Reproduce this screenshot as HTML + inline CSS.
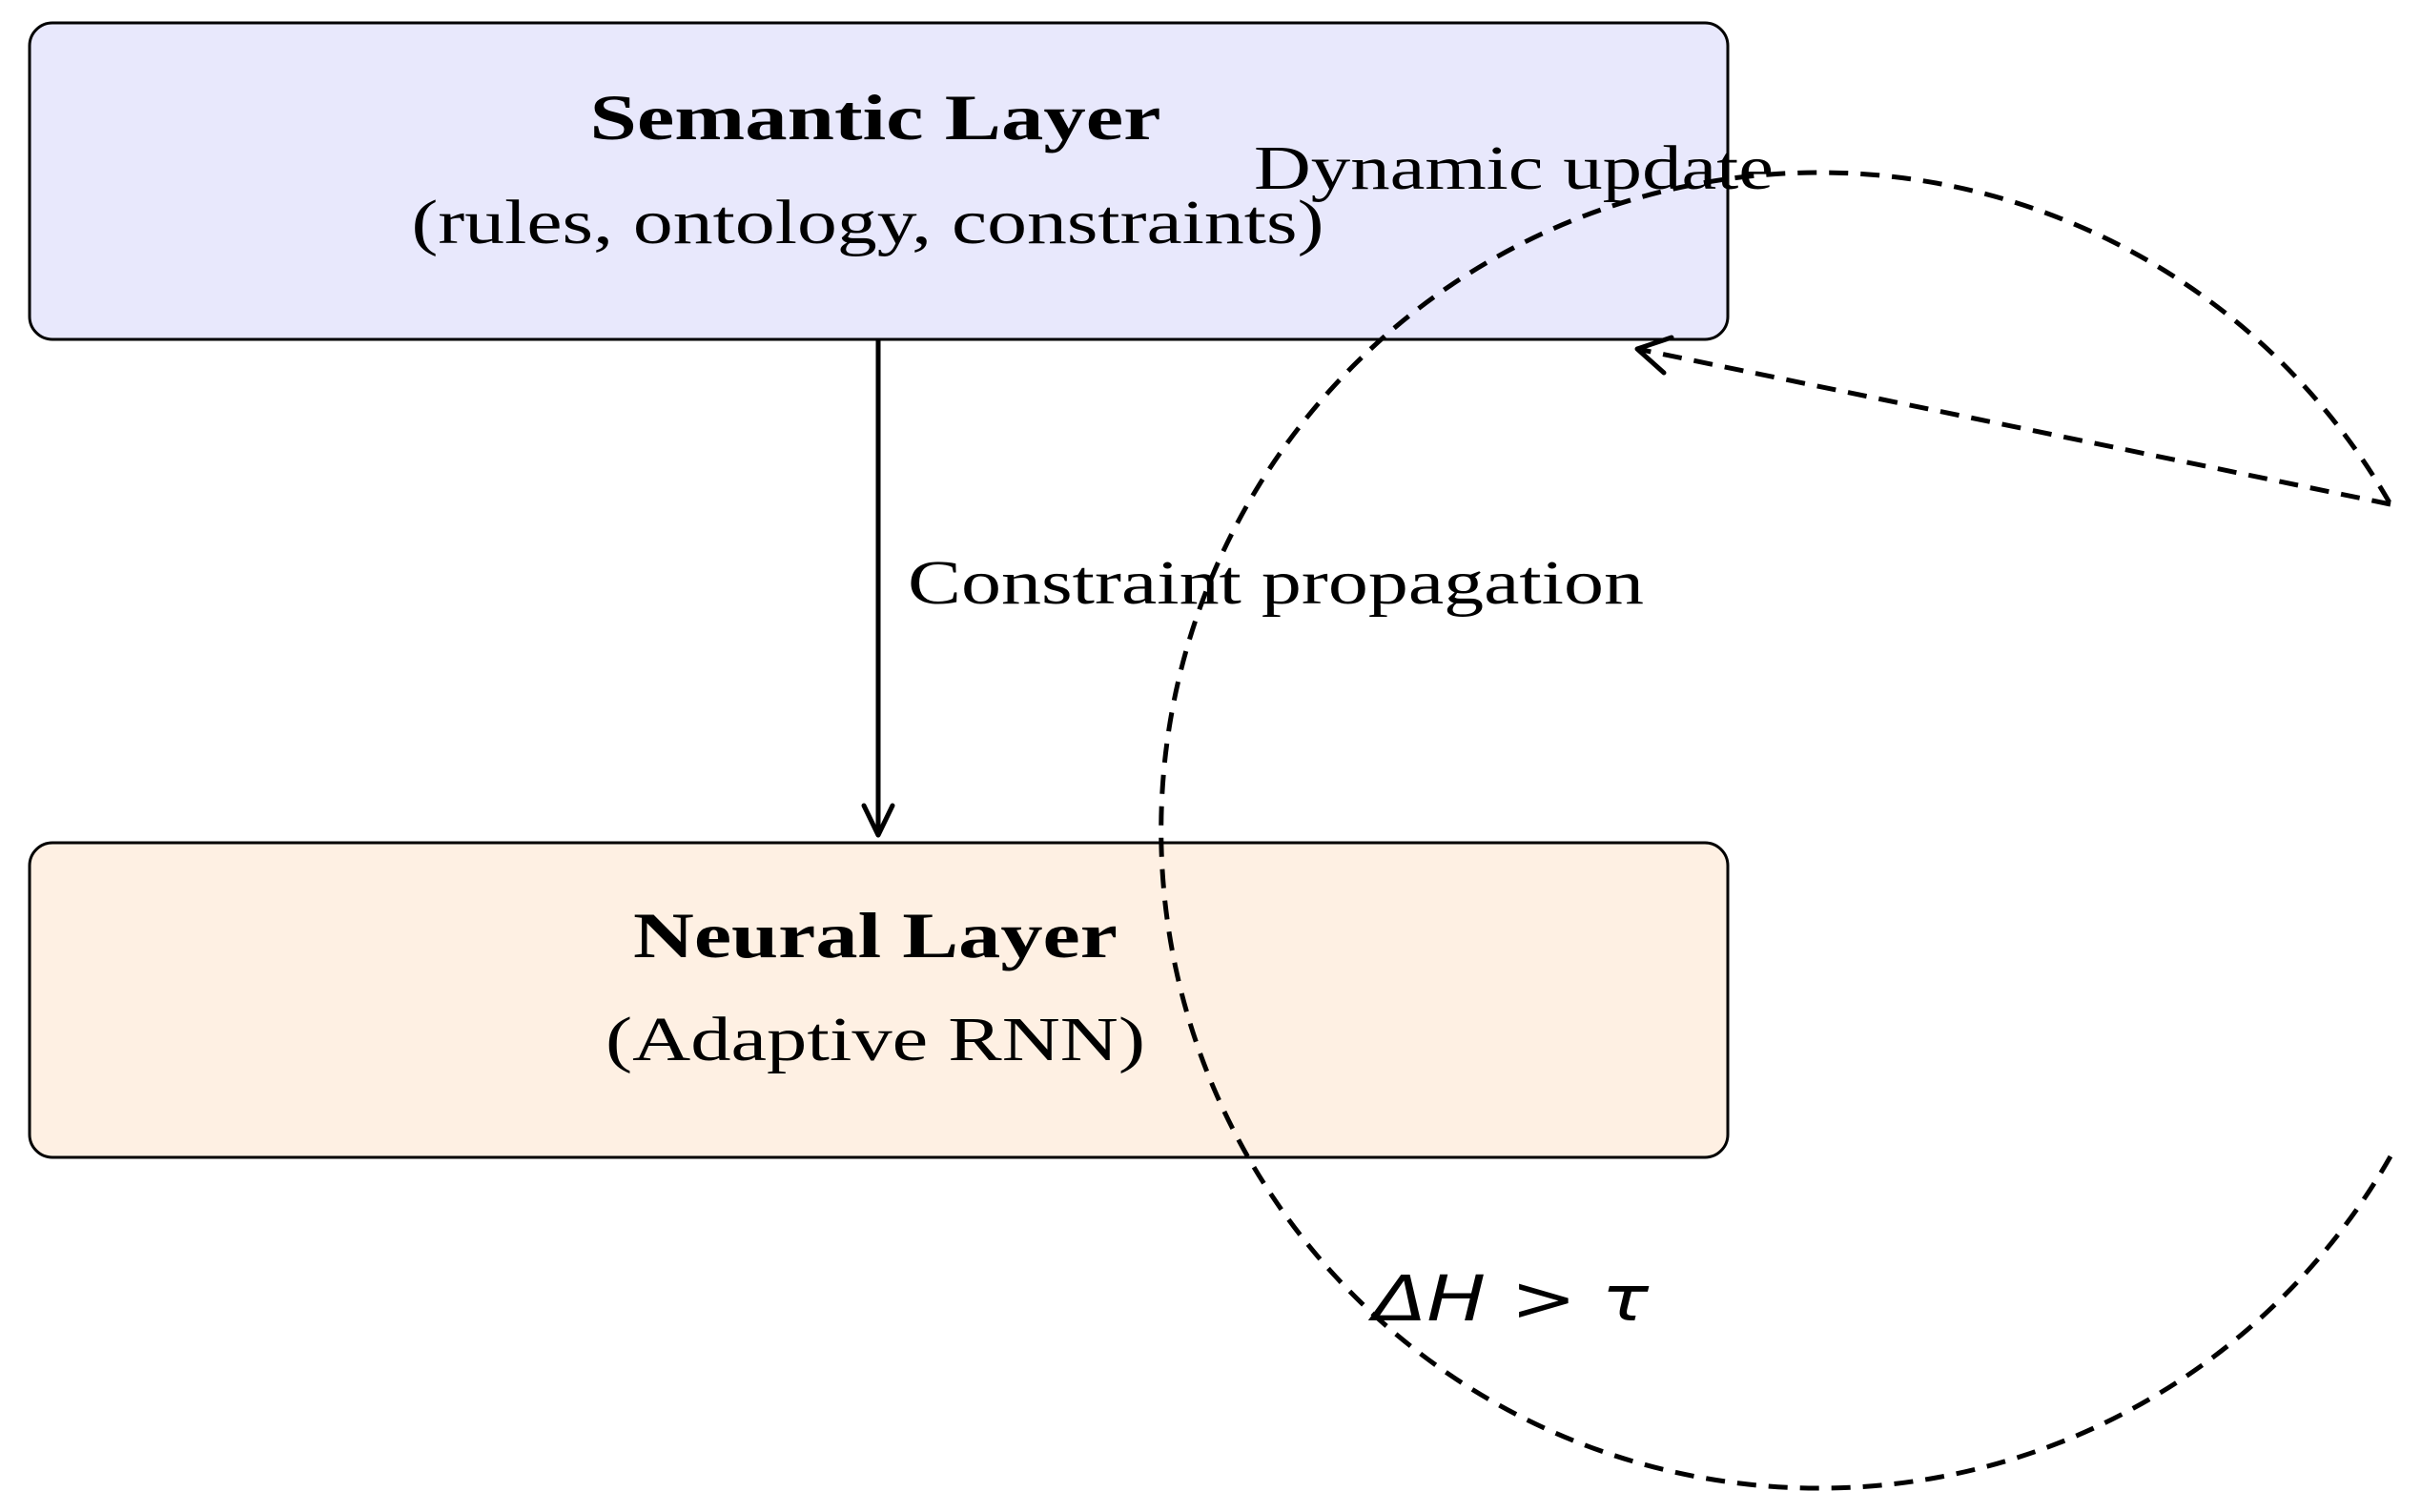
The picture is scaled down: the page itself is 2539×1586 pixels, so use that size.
<!DOCTYPE html>
<html><head><meta charset="utf-8"><style>
html,body{margin:0;padding:0;background:#fff;}
svg{display:block;}
</style></head><body>
<svg width="2539" height="1586" viewBox="0 0 2539 1586" xmlns="http://www.w3.org/2000/svg">
<defs>
<marker id="ah" markerWidth="12" markerHeight="12" refX="9" refY="6" orient="auto" markerUnits="userSpaceOnUse" viewBox="0 0 12 12">
</marker>
</defs>
<rect x="31" y="24" width="1781" height="332" rx="24" ry="24" fill="#E8E8FC" stroke="#000" stroke-width="3"/>
<rect x="31" y="884" width="1781" height="330" rx="24" ry="24" fill="#FEF0E3" stroke="#000" stroke-width="3"/>
<line x1="921" y1="356" x2="921" y2="873" stroke="#000" stroke-width="5"/>
<polyline points="906,845 921,876 936,845" fill="none" stroke="#000" stroke-width="5" stroke-linejoin="round" stroke-linecap="round"/>
<path d="M2507,1213 A690,690 0 1 1 2507,529" fill="none" stroke="#000" stroke-width="5" stroke-dasharray="20,13"/>
<line x1="2507" y1="529" x2="1722" y2="367" stroke="#000" stroke-width="5" stroke-dasharray="20,13"/>
<polyline points="1745,391 1717,366 1753,354" fill="none" stroke="#000" stroke-width="5" stroke-linejoin="round" stroke-linecap="round"/>
<g font-family="Liberation Serif, serif" fill="#000">
<text x="918" y="146" font-size="68" font-weight="bold" text-anchor="middle" textLength="599" lengthAdjust="spacingAndGlyphs">Semantic Layer</text>
<text x="910" y="255" font-size="66" text-anchor="middle" textLength="957" lengthAdjust="spacingAndGlyphs">(rules, ontology, constraints)</text>
<text x="918" y="1004" font-size="68" font-weight="bold" text-anchor="middle" textLength="508" lengthAdjust="spacingAndGlyphs">Neural Layer</text>
<text x="918" y="1112" font-size="66" text-anchor="middle" textLength="566" lengthAdjust="spacingAndGlyphs">(Adaptive RNN)</text>
<text x="952" y="633" font-size="66" textLength="772" lengthAdjust="spacingAndGlyphs">Constraint propagation</text>
<text x="1315" y="198" font-size="66" textLength="545" lengthAdjust="spacingAndGlyphs">Dynamic update</text>
</g>
<text x="1440" y="1385" font-family="DejaVu Sans, sans-serif" font-style="italic" font-size="66" textLength="289" lengthAdjust="spacingAndGlyphs">ΔH &gt; τ</text>
</svg>
</body></html>
